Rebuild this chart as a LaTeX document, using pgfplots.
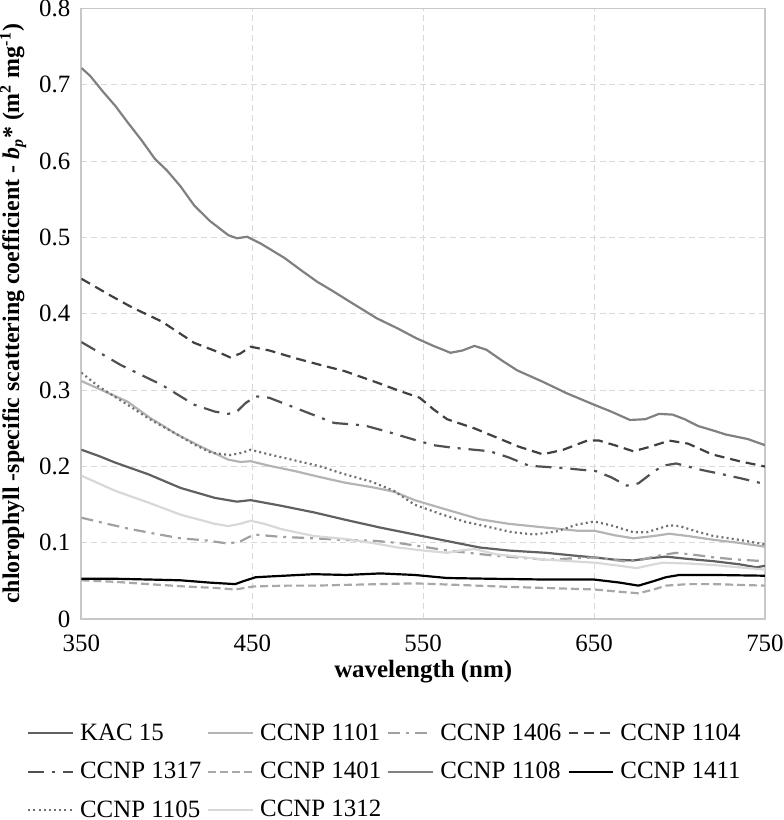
\documentclass[border=0pt]{standalone}
\usepackage{fontspec}
\setmainfont{Liberation Serif}
\usepackage{pgfplots}
\pgfplotsset{compat=1.18}
\definecolor{gridc}{HTML}{D9D9D9}
\definecolor{axc}{HTML}{C8C8C8}
\begin{document}
\begin{tikzpicture}
\begin{axis}[
  scale only axis,
  width=343pt, height=306.5pt,
  xmin=350, xmax=750, ymin=0, ymax=0.8,
  xtick={350,450,550,650,750},
  ytick={0,0.1,0.2,0.3,0.4,0.5,0.6,0.7,0.8},
  yticklabels={0,0.1,0.2,0.3,0.4,0.5,0.6,0.7,0.8},
  /pgf/number format/assume math mode=true,
  tick style={draw=none},
  axis line style={axc, line width=0.9pt},
  grid=major,
  major grid style={gridc, dash pattern=on 3pt off 2pt, line width=0.5pt},
  tick label style={font=\fontsize{12.5}{14}\selectfont},
  xticklabel style={yshift=-7.5pt, inner xsep=0pt, inner ysep=0pt},
  yticklabel style={xshift=-2pt, inner ysep=0pt},
  xlabel={\textbf{wavelength (nm)}},
  xlabel style={font=\fontsize{12.5}{14}\selectfont, yshift=-1pt},
  ylabel={\textbf{chlorophyll -specific scattering coefficient - \textit{b}\textsubscript{\textit{p}}* (m\textsuperscript{2} mg\textsuperscript{-1})}},
  ylabel style={font=\fontsize{12}{14}\selectfont, inner sep=0pt, yshift=3pt},
  legend columns=4,
  legend style={draw=none, inner sep=0pt, at={(-0.08,-0.17)}, anchor=north west,
    font=\fontsize{12.5}{14}\selectfont, row sep=9.5pt,
    nodes={inner xsep=0pt, inner ysep=0pt},
    /tikz/every odd column/.append style={column sep=3pt},
    /tikz/every even column/.append style={column sep=3pt}},
  legend cell align=left,
  legend image code/.code={\draw[#1] (0pt,0pt) -- (22.5pt,0pt);},
  every axis plot/.append style={line width=1.1pt, line join=round},
]
% KAC 15
\addplot[color={rgb,255:red,96;green,96;blue,96}] coordinates {(350,0.222)(360,0.214)(370,0.205)(389,0.19)(408,0.172)(428,0.159)(441,0.154)(449,0.156)(466,0.149)(486,0.14)(505,0.13)(525,0.12)(545,0.111)(565,0.102)(583,0.094)(600,0.09)(622,0.087)(640,0.083)(650,0.081)(662,0.078)(673,0.077)(683,0.08)(692,0.082)(705,0.079)(720,0.076)(735,0.072)(745,0.068)(750,0.07)};
\addlegendentry{KAC 15}
% CCNP 1101
\addplot[color={rgb,255:red,180;green,180;blue,180}] coordinates {(350,0.312)(360,0.302)(377,0.285)(390,0.264)(406,0.242)(420,0.226)(436,0.209)(443,0.206)(449,0.207)(460,0.201)(475,0.194)(490,0.186)(504,0.179)(520,0.173)(533,0.167)(545,0.156)(560,0.146)(583,0.131)(600,0.125)(622,0.12)(640,0.116)(650,0.116)(662,0.11)(673,0.106)(685,0.109)(694,0.112)(705,0.109)(720,0.104)(735,0.1)(750,0.095)};
\addlegendentry{CCNP 1101}
% CCNP 1406
\addplot[color={rgb,255:red,160;green,160;blue,160}, dash pattern=on 6pt off 3pt on 1.5pt off 3pt] coordinates {(350,0.133)(365,0.125)(379,0.118)(393,0.112)(408,0.106)(424,0.103)(436,0.099)(443,0.102)(451,0.111)(466,0.108)(486,0.106)(502,0.104)(520,0.103)(535,0.1)(550,0.095)(564,0.09)(593,0.083)(622,0.078)(640,0.08)(651,0.081)(667,0.076)(676,0.077)(687,0.083)(698,0.087)(710,0.084)(720,0.081)(735,0.078)(750,0.076)};
\addlegendentry{CCNP 1406}
% CCNP 1104
\addplot[color={rgb,255:red,64;green,64;blue,64}, dash pattern=on 5pt off 3pt] coordinates {(350,0.446)(367,0.424)(380,0.408)(397,0.39)(416,0.362)(430,0.35)(437,0.343)(443,0.348)(449,0.357)(460,0.352)(475,0.342)(490,0.333)(504,0.325)(523,0.31)(535,0.3)(548,0.29)(556,0.275)(564,0.262)(580,0.25)(593,0.238)(606,0.226)(620,0.216)(632,0.222)(646,0.234)(653,0.234)(662,0.228)(673,0.22)(683,0.226)(694,0.234)(705,0.23)(719,0.216)(735,0.207)(750,0.2)};
\addlegendentry{CCNP 1104}
% CCNP 1317
\addplot[color={rgb,255:red,80;green,80;blue,80}, dash pattern=on 8pt off 4pt on 1.5pt off 4pt] coordinates {(350,0.363)(360,0.35)(373,0.333)(385,0.32)(397,0.307)(416,0.281)(428,0.272)(436,0.269)(441,0.272)(446,0.283)(452,0.292)(460,0.29)(475,0.277)(498,0.257)(510,0.255)(517,0.253)(530,0.245)(545,0.235)(556,0.228)(566,0.225)(589,0.22)(600,0.212)(612,0.201)(632,0.198)(651,0.194)(660,0.186)(669,0.175)(676,0.178)(683,0.19)(690,0.201)(698,0.204)(705,0.2)(714,0.195)(725,0.19)(737,0.184)(750,0.177)};
\addlegendentry{CCNP 1317}
% CCNP 1401
\addplot[color={rgb,255:red,168;green,168;blue,168}, dash pattern=on 4pt off 2pt] coordinates {(350,0.051)(370,0.049)(389,0.046)(410,0.043)(428,0.041)(440,0.039)(451,0.043)(470,0.044)(486,0.044)(505,0.045)(525,0.046)(545,0.047)(570,0.045)(593,0.043)(620,0.041)(650,0.039)(665,0.036)(676,0.034)(685,0.039)(692,0.044)(705,0.046)(720,0.046)(735,0.045)(750,0.044)};
\addlegendentry{CCNP 1401}
% CCNP 1108
\addplot[color={rgb,255:red,128;green,128;blue,128}] coordinates {(350,0.722)(355,0.712)(363,0.69)(370,0.672)(377,0.651)(385,0.628)(393,0.603)(400,0.588)(408,0.567)(416,0.542)(425,0.522)(436,0.503)(441,0.499)(447,0.501)(455,0.492)(469,0.473)(478,0.458)(488,0.442)(497,0.43)(507,0.416)(515,0.405)(523,0.394)(535,0.381)(546,0.368)(556,0.358)(566,0.349)(573,0.352)(580,0.358)(587,0.353)(596,0.339)(605,0.326)(620,0.311)(634,0.296)(650,0.281)(660,0.272)(671,0.261)(680,0.262)(688,0.269)(696,0.268)(703,0.262)(711,0.253)(720,0.247)(727,0.242)(740,0.236)(750,0.228)};
\addlegendentry{CCNP 1108}
% CCNP 1411
\addplot[color=black] coordinates {(350,0.053)(370,0.053)(390,0.052)(408,0.051)(425,0.048)(440,0.046)(445,0.05)(452,0.055)(460,0.056)(486,0.059)(505,0.058)(525,0.06)(545,0.058)(564,0.054)(590,0.053)(622,0.052)(650,0.052)(665,0.048)(676,0.044)(685,0.05)(692,0.055)(700,0.058)(720,0.058)(750,0.057)};
\addlegendentry{CCNP 1411}
% CCNP 1105
\addplot[color={rgb,255:red,112;green,112;blue,112}, dash pattern=on 1pt off 1.6pt] coordinates {(350,0.323)(360,0.305)(377,0.281)(390,0.262)(406,0.242)(416,0.229)(426,0.218)(437,0.215)(444,0.218)(449,0.222)(456,0.218)(475,0.208)(490,0.2)(504,0.19)(520,0.18)(533,0.168)(545,0.15)(560,0.138)(574,0.128)(590,0.12)(602,0.114)(615,0.111)(628,0.115)(640,0.124)(650,0.128)(660,0.123)(673,0.114)(681,0.114)(694,0.123)(700,0.122)(710,0.115)(720,0.109)(735,0.104)(750,0.098)};
\addlegendentry{CCNP 1105}
% CCNP 1312
\addplot[color={rgb,255:red,216;green,216;blue,216}] coordinates {(350,0.188)(360,0.178)(370,0.168)(389,0.153)(408,0.137)(428,0.125)(436,0.122)(443,0.125)(449,0.129)(457,0.125)(467,0.118)(486,0.109)(505,0.105)(520,0.1)(535,0.094)(550,0.09)(564,0.087)(572,0.09)(580,0.092)(593,0.085)(622,0.078)(651,0.074)(665,0.07)(675,0.067)(683,0.071)(690,0.074)(705,0.073)(720,0.071)(735,0.068)(750,0.065)};
\addlegendentry{CCNP 1312}
\end{axis}
\end{tikzpicture}
\end{document}
